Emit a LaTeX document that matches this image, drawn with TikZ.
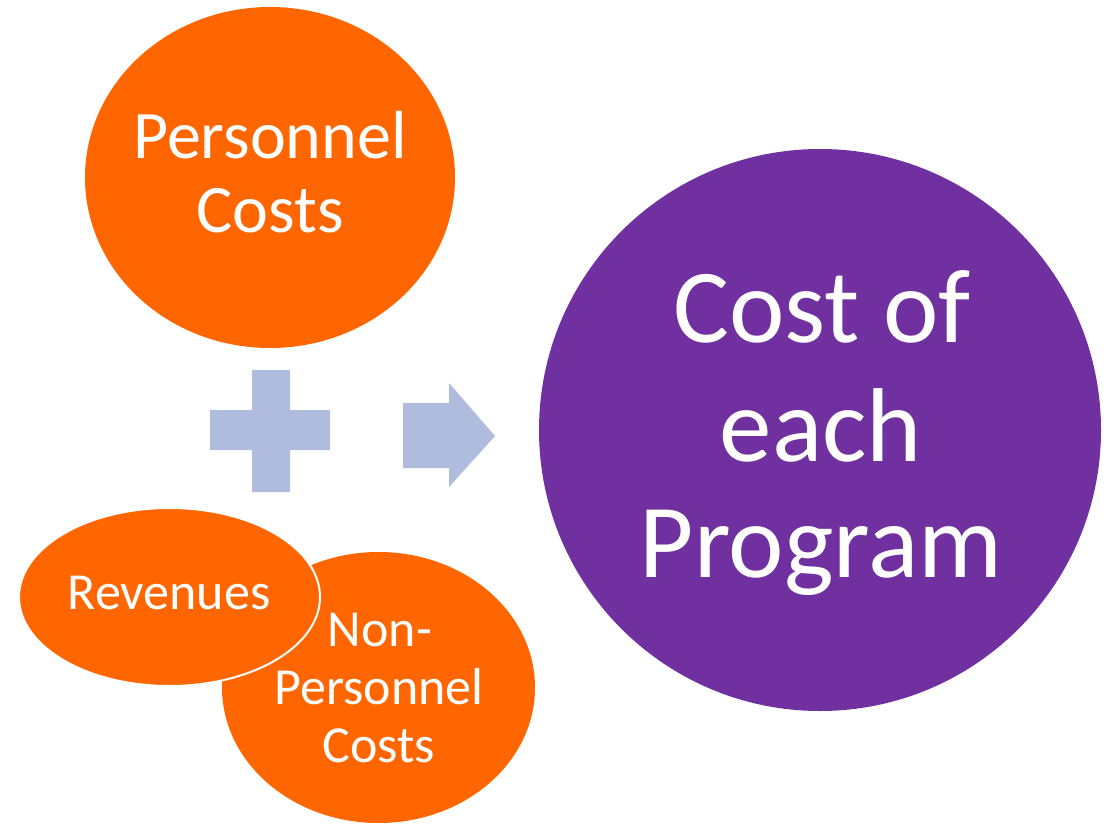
\documentclass[tikz,border=0pt]{standalone}
\usepackage{fontspec}
\setmainfont{Carlito}
\usetikzlibrary{shapes.geometric}
\definecolor{orng}{RGB}{255,102,0}
\definecolor{purp}{RGB}{112,48,160}
\definecolor{lblue}{RGB}{176,188,221}
\begin{document}
\begin{tikzpicture}[x=1pt,y=-1pt,
  blob/.style={ellipse, fill=orng, inner sep=0pt},
  lbl/.style={text=white, anchor=base, inner sep=0pt},
  bigtxt/.style={lbl, font=\fontsize{105}{117}\selectfont},
  midtxt/.style={lbl, font=\fontsize{68}{74}\selectfont},
  smltxt/.style={lbl, font=\fontsize{52}{58}\selectfont},
  sign/.style={fill=lblue}]
\useasboundingbox (0,0) rectangle (1107,826);
% circles
\node[blob, minimum width=370pt, minimum height=341pt] (pers) at (270,177.5) {};
\node[blob, minimum width=313pt, minimum height=271pt] (nonp) at (378.5,687.5) {};
\node[blob, draw=white, line width=2pt, minimum width=301pt, minimum height=178pt] (rev) at (169.5,597) {};
\node[ellipse, fill=purp, minimum size=562pt, inner sep=0pt] (prog) at (820,430) {};
% plus sign
\fill[sign] (252,370) -- (290,370) -- (290,410) -- (330,410) -- (330,450) -- (290,450)
  -- (290,492) -- (252,492) -- (252,450) -- (210,450) -- (210,410) -- (252,410) -- cycle;
% block arrow
\fill[sign] (403,403) -- (449,403) -- (449,383) -- (495,436) -- (449,487) -- (449,468)
  -- (403,468) -- cycle;
% labels
\node[midtxt] (p1) at (270,159) {Personnel};
\node[midtxt] (p2) at (270,233) {Costs};
\node[smltxt] (r1) at (169,609) {Revenues};
\node[smltxt] (n1) at (380,646) {Non-};
\node[smltxt] (n2) at (379,704) {Personnel};
\node[smltxt] (n3) at (379,762) {Costs};
\node[bigtxt] (c1) at (822,342) {Cost of};
\node[bigtxt] (c2) at (821,461) {each};
\node[bigtxt] (c3) at (821,577) {Program};
\end{tikzpicture}
\end{document}
